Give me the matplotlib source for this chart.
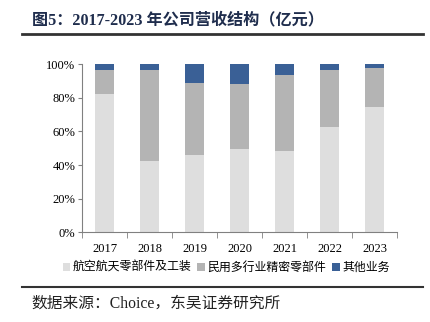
import numpy as np
import matplotlib.pyplot as plt
from matplotlib.patches import Patch

plt.rcParams['font.family'] = ['Liberation Serif', 'Noto Sans CJK SC']

years = ["2017", "2018", "2019", "2020", "2021", "2022", "2023"]
# revenue share by segment, %
aero = [82.5, 42.6, 46.0, 49.7, 48.4, 62.7, 74.8]
civil = [13.9, 54.0, 42.9, 38.6, 45.2, 34.1, 23.2]
other = [3.6, 3.4, 11.1, 11.7, 6.4, 3.2, 2.0]
labels = ["航空航天零部件及工装", "民用多行业精密零部件", "其他业务"]
colors = ["#dedede", "#b4b4b4", "#3a6096"]

fig = plt.figure(figsize=(4.31, 3.22), dpi=100)
ax = fig.add_axes([0.191, 0.2786, 0.731, 0.5217])

x = np.arange(len(years))
w = 0.42
bottom = np.zeros(len(years))
for vals, c in zip([aero, civil, other], colors):
    ax.bar(x, vals, w, bottom=bottom, color=c, edgecolor="none")
    bottom += np.array(vals)

ax.set_xlim(-0.5, len(years) - 0.5)
ax.set_ylim(0, 100)
ax.set_yticks(np.arange(0, 101, 20))
ax.set_yticklabels([f"{v}%" for v in range(0, 101, 20)], fontsize=9)
ax.set_xticks(x)
ax.set_xticklabels(years, fontsize=9)
ax.set_xticks(np.arange(-0.5, len(years)), minor=True)
ax.tick_params(axis="x", which="major", length=0, pad=8)
ax.tick_params(axis="x", which="minor", length=4, color="#808080", direction="out")
ax.tick_params(axis="y", length=3, color="#808080", pad=2)
for s in ["top", "right"]:
    ax.spines[s].set_visible(False)
for s in ["left", "bottom"]:
    ax.spines[s].set_color("#808080")
    ax.spines[s].set_linewidth(0.8)

handles = [Patch(facecolor=c, edgecolor="none") for c in colors]
fig.legend(handles, labels, loc="center", bbox_to_anchor=(0.525, 0.17),
           ncol=3, frameon=False, handlelength=0.65, handleheight=0.65,
           handletextpad=0.2, columnspacing=0.5,
           prop={"family": "Noto Sans CJK SC", "size": 8.6})

# header and footer
fig.text(0.074, 0.938, "图5：2017-2023 年公司营收结构（亿元）", fontsize=11.6,
         fontweight="bold", color="#1f2d4d", va="center",
         family=["Liberation Serif", "Noto Sans CJK SC"])
fig.add_artist(plt.Line2D([0.051, 0.981], [0.893, 0.893], color="#333333", lw=2))
fig.add_artist(plt.Line2D([0.051, 0.981], [0.109, 0.109], color="#333333", lw=1.5))
fig.text(0.074, 0.056, "数据来源：Choice，东吴证券研究所", fontsize=11.3,
         color="#222222", va="center",
         family=["Liberation Serif", "Noto Sans CJK SC"])

fig.savefig("out.png", dpi=100)
